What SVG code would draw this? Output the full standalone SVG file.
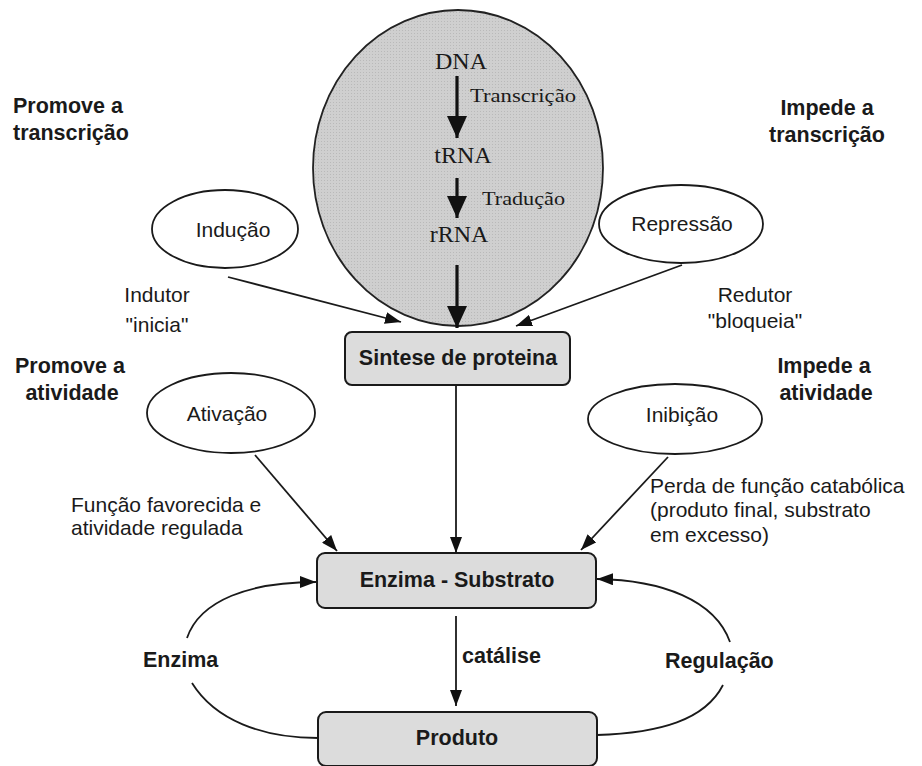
<svg xmlns="http://www.w3.org/2000/svg" width="922" height="766" viewBox="0 0 922 766">
<defs>
<style>
.sans{font-family:"Liberation Sans",Arial,sans-serif;font-size:21px;fill:#1a1a1a}
.b{font-weight:bold;font-size:21.5px}
.serif{font-family:"Liberation Serif","Times New Roman",serif;fill:#1a1a1a}
.ell{fill:#fff;stroke:#1a1a1a;stroke-width:1.8}
.box{fill:#dcdcdc;stroke:#1a1a1a;stroke-width:2}
.ln{fill:none;stroke:#1a1a1a;stroke-width:1.8}
.thick{fill:none;stroke:#111;stroke-width:3.2}
</style>
<pattern id="dots" width="3" height="3" patternUnits="userSpaceOnUse">
<rect width="3" height="3" fill="#cfcfcf"/>
<rect width="1" height="1" fill="#b9b9b9"/>
</pattern>
<marker id="ah" markerUnits="userSpaceOnUse" markerWidth="16" markerHeight="12" refX="16" refY="6" orient="auto">
<path d="M0,0 L16,6 L0,12 z" fill="#111"/>
</marker>
<marker id="ahb" markerUnits="userSpaceOnUse" markerWidth="22" markerHeight="20" refX="22" refY="10" orient="auto">
<path d="M0,0 L22,10 L0,20 z" fill="#111"/>
</marker>
</defs>
<rect width="922" height="766" fill="#fff"/>

<g id="cell">
<ellipse cx="458" cy="168" rx="145" ry="158" fill="url(#dots)" stroke="#222" stroke-width="1.8"/>
<text class="serif" x="461" y="69" font-size="24" text-anchor="middle">DNA</text>
<text class="serif" x="470" y="102" font-size="19" textLength="106" lengthAdjust="spacingAndGlyphs">Transcrição</text>
<text class="serif" x="463" y="163" font-size="24" text-anchor="middle">tRNA</text>
<text class="serif" x="482" y="205" font-size="19" textLength="83" lengthAdjust="spacingAndGlyphs">Tradução</text>
<text class="serif" x="459" y="242" font-size="24" text-anchor="middle">rRNA</text>
</g>

<g id="legend-promove-transcricao"><text class="sans b" x="13" y="113">Promove a</text><text class="sans b" x="13" y="140">transcrição</text></g>
<g id="legend-impede-transcricao"><text class="sans b" x="827" y="115" text-anchor="middle">Impede a</text><text class="sans b" x="827" y="142" text-anchor="middle">transcrição</text></g>
<g id="legend-promove-atividade"><text class="sans b" x="70" y="373" text-anchor="middle">Promove a</text><text class="sans b" x="72" y="400" text-anchor="middle">atividade</text></g>
<g id="legend-impede-atividade"><text class="sans b" x="824" y="373" text-anchor="middle">Impede a</text><text class="sans b" x="826" y="400" text-anchor="middle">atividade</text></g>

<g id="inducao"><ellipse class="ell" cx="225" cy="229" rx="73" ry="39"/><text class="sans" x="233" y="237" text-anchor="middle">Indução</text></g>
<g id="repressao"><ellipse class="ell" cx="681" cy="224" rx="82" ry="39"/><text class="sans" x="682" y="231" text-anchor="middle">Repressão</text></g>
<g id="ativacao"><ellipse class="ell" cx="231" cy="413" rx="84" ry="40"/><text class="sans" x="227" y="421" text-anchor="middle">Ativação</text></g>
<g id="inibicao"><ellipse class="ell" cx="675" cy="419" rx="87" ry="35"/><text class="sans" x="682" y="422" text-anchor="middle">Inibição</text></g>

<g id="sintese"><rect class="box" x="345" y="332" width="225" height="53" rx="7"/><text class="sans b" x="458" y="365" text-anchor="middle">Sintese de proteina</text></g>
<g id="enzima-substrato"><rect class="box" x="317" y="553" width="279" height="55" rx="8"/><text class="sans b" x="457" y="587" text-anchor="middle">Enzima - Substrato</text></g>
<g id="produto"><rect class="box" x="318" y="712" width="279" height="54" rx="8"/><text class="sans b" x="457" y="745" text-anchor="middle">Produto</text></g>

<g id="connectors">
<line class="thick" x1="457" y1="76" x2="457" y2="138" marker-end="url(#ahb)"/>
<line class="thick" x1="457" y1="178" x2="457" y2="218" marker-end="url(#ahb)"/>
<line class="thick" x1="457" y1="265" x2="457" y2="328" marker-end="url(#ahb)"/>
<line class="ln" x1="228" y1="277" x2="401" y2="322" marker-end="url(#ah)"/>
<line class="ln" x1="682" y1="265" x2="516" y2="326" marker-end="url(#ah)"/>
<line class="ln" x1="456" y1="385" x2="456" y2="553" marker-end="url(#ah)"/>
<line class="ln" x1="255" y1="455" x2="337" y2="551" marker-end="url(#ah)"/>
<line class="ln" x1="668" y1="457" x2="581" y2="550" marker-end="url(#ah)"/>
<line class="ln" x1="456" y1="616" x2="456" y2="706" marker-end="url(#ah)"/>
<path class="ln" d="M187,638 C200,600 250,582 316,582" marker-end="url(#ah)"/>
<path class="ln" d="M192,683 C215,720 262,738 318,738"/>
<path class="ln" d="M730,642 C715,600 662,580 597,579" marker-end="url(#ah)"/>
<path class="ln" d="M723,685 C705,720 660,733 597,735"/>
<text class="sans" x="157" y="302" text-anchor="middle">Indutor</text>
<text class="sans" x="157" y="332" text-anchor="middle">"inicia"</text>
<text class="sans" x="755" y="302" text-anchor="middle">Redutor</text>
<text class="sans" x="755" y="328" text-anchor="middle">"bloqueia"</text>
<text class="sans" x="71" y="512">Função favorecida e</text>
<text class="sans" x="71" y="535">atividade regulada</text>
<text class="sans" x="650" y="493">Perda de função catabólica</text>
<text class="sans" x="650" y="517">(produto final, substrato</text>
<text class="sans" x="650" y="542">em excesso)</text>
<text class="sans b" x="462" y="663">catálise</text>
<text class="sans b" x="143" y="667">Enzima</text>
<text class="sans b" x="665" y="668">Regulação</text>
</g>
</svg>
